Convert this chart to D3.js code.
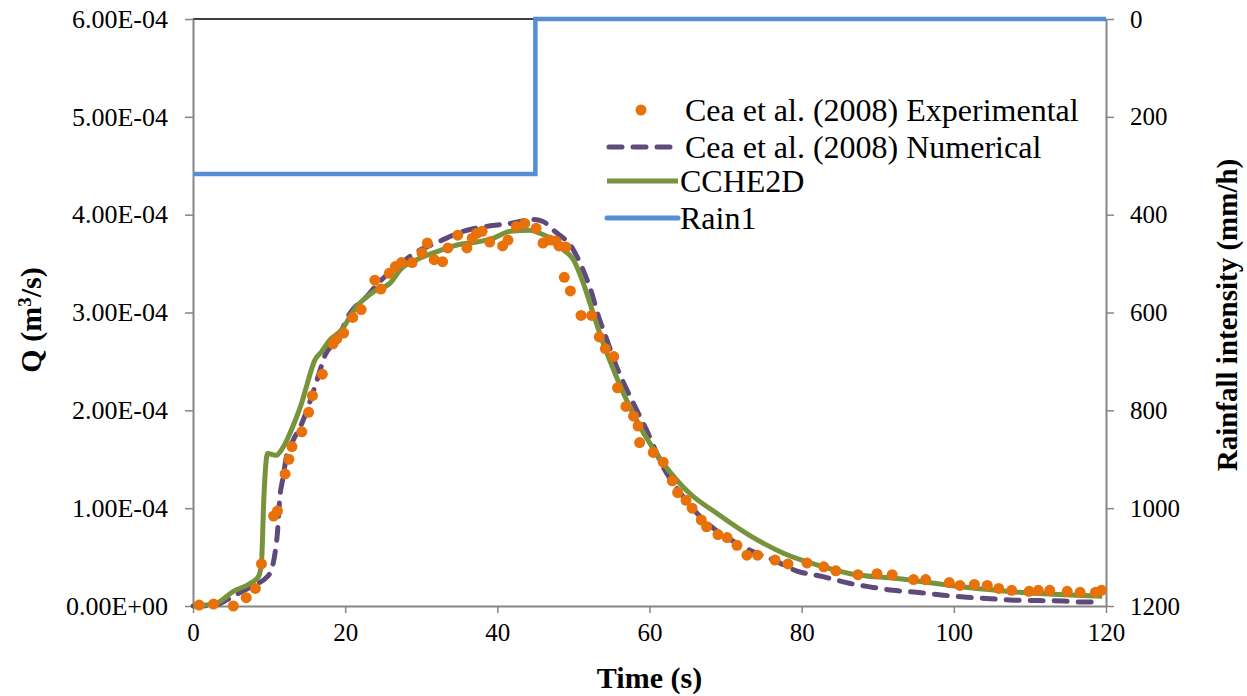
<!DOCTYPE html>
<html><head><meta charset="utf-8">
<script src="https://cdn.jsdelivr.net/npm/d3@7"></script>
<style>
body{margin:0;background:#fff;}
text{font-family:"Liberation Serif","Times New Roman",serif;fill:#000;}
</style></head>
<body><svg id="chart" width="1247" height="696"></svg>
<script>
// Experimental (Cea et al. 2008): time (s), Q (x1e-4 m3/s)
const expT = [0.8,2.7,5.3,7.0,8.2,9.0,10.6,11.1,12.1,12.6,13.0,14.3,15.2,15.7,17.0,18.4,18.9,19.8,21.0,22.1,23.9,24.7,25.8,26.6,27.4,28.8,30.1,30.8,31.7,32.8,33.5,34.8,36.0,36.7,37.3,38.0,39.0,40.7,41.4,42.5,43.6,45.1,46.0,46.9,47.7,48.1,49.0,48.8,49.6,51.0,52.4,53.4,54.2,55.3,55.8,56.9,57.9,58.5,58.7,60.5,61.8,63.0,63.7,64.8,65.6,66.8,67.5,69.0,70.2,71.5,72.8,74.2,76.5,78.2,80.7,82.9,84.5,87.4,89.9,91.9,94.7,96.3,99.4,100.8,102.7,104.4,105.9,107.6,109.9,111.1,112.6,114.9,116.6,118.6,119.4];
const expQ = [0.01,0.02,0.00,0.085,0.18,0.43,0.92,0.97,1.35,1.50,1.63,1.78,1.98,2.15,2.37,2.68,2.73,2.79,2.95,3.03,3.33,3.24,3.40,3.47,3.51,3.51,3.61,3.71,3.54,3.52,3.66,3.79,3.66,3.76,3.81,3.83,3.72,3.68,3.74,3.88,3.91,3.86,3.71,3.74,3.73,3.68,3.67,3.36,3.22,2.97,2.97,2.75,2.63,2.55,2.23,2.04,1.94,1.84,1.67,1.57,1.47,1.28,1.16,1.08,1.00,0.88,0.81,0.73,0.70,0.62,0.52,0.52,0.47,0.43,0.44,0.40,0.36,0.32,0.33,0.32,0.27,0.27,0.24,0.21,0.22,0.21,0.18,0.16,0.15,0.16,0.16,0.15,0.14,0.14,0.16];
// Numerical (Cea et al. 2008)
const numT = [0,3.0,4.4,6.5,8.5,9.5,10.3,10.8,11.1,11.4,11.8,12.3,13.2,14.1,15.2,16.3,17.4,18.9,20.6,22.8,24.6,26.8,29.4,32.2,35.5,38.6,41.7,44.7,46.0,47.4,50.0,51.3,52.4,53.3,54.4,55.5,56.6,57.9,59.6,61.8,64.4,67.1,69.0,71.5,73.2,76.3,79.3,82.8,86.4,89.4,92.0,95.1,98.6,101.7,104.8,107.8,111.3,114.4,117.0,119.0];
const numQ = [0,0.01,0.06,0.15,0.23,0.28,0.37,0.55,0.75,1.10,1.30,1.53,1.70,1.83,2.05,2.31,2.57,2.72,2.99,3.16,3.32,3.47,3.62,3.72,3.83,3.88,3.91,3.95,3.93,3.84,3.64,3.43,3.20,2.96,2.72,2.48,2.28,2.07,1.80,1.42,1.12,0.88,0.76,0.64,0.57,0.47,0.36,0.30,0.23,0.19,0.16,0.14,0.11,0.09,0.075,0.06,0.055,0.05,0.04,0.04];
// CCHE2D
const ccheT = [0,3.1,5.3,7.5,8.6,9.0,9.3,9.8,10.9,11.9,13.2,14.3,14.9,16.0,16.9,18.0,19.5,21.5,23.7,25.9,27.4,29.4,32.0,34.7,37.3,39.5,41.7,44.3,45.6,46.9,48.7,50.0,51.3,52.6,53.9,55.3,56.6,59.2,61.8,65.3,68.8,73.2,77.6,82.0,86.4,92.5,99.6,108.6,119.5];
const ccheQ = [0,0.03,0.15,0.23,0.30,0.44,1.08,1.56,1.54,1.63,1.85,2.08,2.24,2.51,2.60,2.72,2.82,3.06,3.21,3.30,3.45,3.54,3.62,3.69,3.72,3.76,3.83,3.84,3.81,3.76,3.64,3.54,3.30,2.99,2.69,2.41,2.17,1.77,1.46,1.15,0.95,0.72,0.54,0.42,0.33,0.28,0.21,0.14,0.10];
// Rain1 (mm/h), step
const rainT = [0,45,120];
const rainI = [317,0,0];
const xTicks = [0,20,40,60,80,100,120];
const yTicks = [0,1e-4,2e-4,3e-4,4e-4,5e-4,6e-4];
const y2Ticks = [0,200,400,600,800,1000,1200];
const legendLabels = ["Cea et al. (2008) Experimental","Cea et al. (2008) Numerical","CCHE2D","Rain1"];

const svg = d3.select("#chart");
const L=193,R=1106,T=19,B=606;
const x = d3.scaleLinear().domain([0,120]).range([L,R]);
const y = d3.scaleLinear().domain([0,6e-4]).range([B,T]);
const y2 = d3.scaleLinear().domain([0,1200]).range([T,B]);
const axisCol="#868686";
const cOrange="#E8710A", cPurple="#604A7B", cGreen="#77933C", cBlue="#558ED5";

// top border line
svg.append("line").attr("x1",L).attr("x2",R).attr("y1",T).attr("y2",T).attr("stroke","#000").attr("stroke-width",1.5);

function styleAxis(g){
  g.select(".domain").attr("stroke",axisCol).attr("stroke-width",2);
  g.selectAll(".tick line").attr("stroke",axisCol).attr("stroke-width",1.5);
  g.selectAll("text").style("font-family",'"Liberation Serif","Times New Roman",serif').attr("fill","#000");
}
const gx = svg.append("g").attr("transform",`translate(0,${B})`)
  .call(d3.axisBottom(x).tickValues(xTicks).tickSize(7).tickSizeOuter(0).tickFormat(d3.format("d")).tickPadding(10));
styleAxis(gx); gx.selectAll("text").style("font-size","25px");
const fmtE = d => { const s=d.toExponential(2).toUpperCase(); const m=s.match(/^(.*)E([+-])(\d+)$/); return m[1]+"E"+m[2]+m[3].padStart(2,"0"); };
const gy = svg.append("g").attr("transform",`translate(${L},0)`)
  .call(d3.axisLeft(y).tickValues(yTicks).tickSize(8).tickSizeOuter(0).tickFormat(fmtE).tickPadding(17));
styleAxis(gy); gy.selectAll("text").style("font-size","26px");
const gy2 = svg.append("g").attr("transform",`translate(${R},0)`)
  .call(d3.axisRight(y2).tickValues(y2Ticks).tickSize(8).tickSizeOuter(0).tickFormat(d3.format("d")).tickPadding(16));
styleAxis(gy2); gy2.selectAll("text").style("font-size","25px");

// Rain
const rainData = rainT.map((t,i)=>[t,rainI[i]]);
svg.append("path").datum(rainData)
  .attr("d", d3.line().x(d=>x(d[0])).y(d=>y2(d[1])).curve(d3.curveStepAfter))
  .attr("fill","none").attr("stroke",cBlue).attr("stroke-width",4.5);

// Numerical dashed
const numData = numT.map((t,i)=>[t,numQ[i]*1e-4]);
svg.append("path").datum(numData)
  .attr("d", d3.line().x(d=>x(d[0])).y(d=>y(d[1])).curve(d3.curveMonotoneX))
  .attr("fill","none").attr("stroke",cPurple).attr("stroke-width",5)
  .attr("stroke-dasharray","13,11").attr("stroke-linecap","round");

// CCHE2D
const ccheData = ccheT.map((t,i)=>[t,ccheQ[i]*1e-4]);
svg.append("path").datum(ccheData)
  .attr("d", d3.line().x(d=>x(d[0])).y(d=>y(d[1])).curve(d3.curveMonotoneX))
  .attr("fill","none").attr("stroke",cGreen).attr("stroke-width",5).attr("stroke-linejoin","round");

// Experimental dots
svg.append("g").selectAll("circle").data(expT.map((t,i)=>[t,expQ[i]*1e-4])).join("circle")
  .attr("cx",d=>x(d[0])).attr("cy",d=>y(d[1])).attr("r",5.5).attr("fill",cOrange);

// Axis titles
svg.append("text").attr("x",(L+R)/2).attr("y",688).attr("text-anchor","middle")
  .style("font-size","30px").style("font-weight","bold").text("Time (s)");
const qt = svg.append("text").attr("transform","translate(41,320) rotate(-90)").attr("text-anchor","middle")
  .style("font-size","30px").style("font-weight","bold");
qt.append("tspan").text("Q (m");
qt.append("tspan").attr("baseline-shift","super").style("font-size","19px").text("3");
qt.append("tspan").text("/s)");
svg.append("text").attr("transform","translate(1237,315) rotate(-90)").attr("text-anchor","middle")
  .style("font-size","29px").style("font-weight","bold").text("Rainfall intensity (mm/h)");

// Legend
const lg = svg.append("g");
const rows=[110,147,181,218];
lg.append("circle").attr("cx",641).attr("cy",rows[0]).attr("r",5.5).attr("fill",cOrange);
lg.append("line").attr("x1",609).attr("x2",672).attr("y1",rows[1]).attr("y2",rows[1])
  .attr("stroke",cPurple).attr("stroke-width",5).attr("stroke-dasharray","13,11").attr("stroke-linecap","round");
lg.append("line").attr("x1",607).attr("x2",678).attr("y1",rows[2]).attr("y2",rows[2]).attr("stroke",cGreen).attr("stroke-width",5);
lg.append("line").attr("x1",607).attr("x2",678).attr("y1",rows[3]).attr("y2",rows[3]).attr("stroke",cBlue).attr("stroke-width",5).attr("stroke-linecap","round");
legendLabels.forEach((s,i)=>{
  lg.append("text").attr("x", i>=2?680:685).attr("y",rows[i]+11).style("font-size","32px").text(s);
});
</script></body></html>
